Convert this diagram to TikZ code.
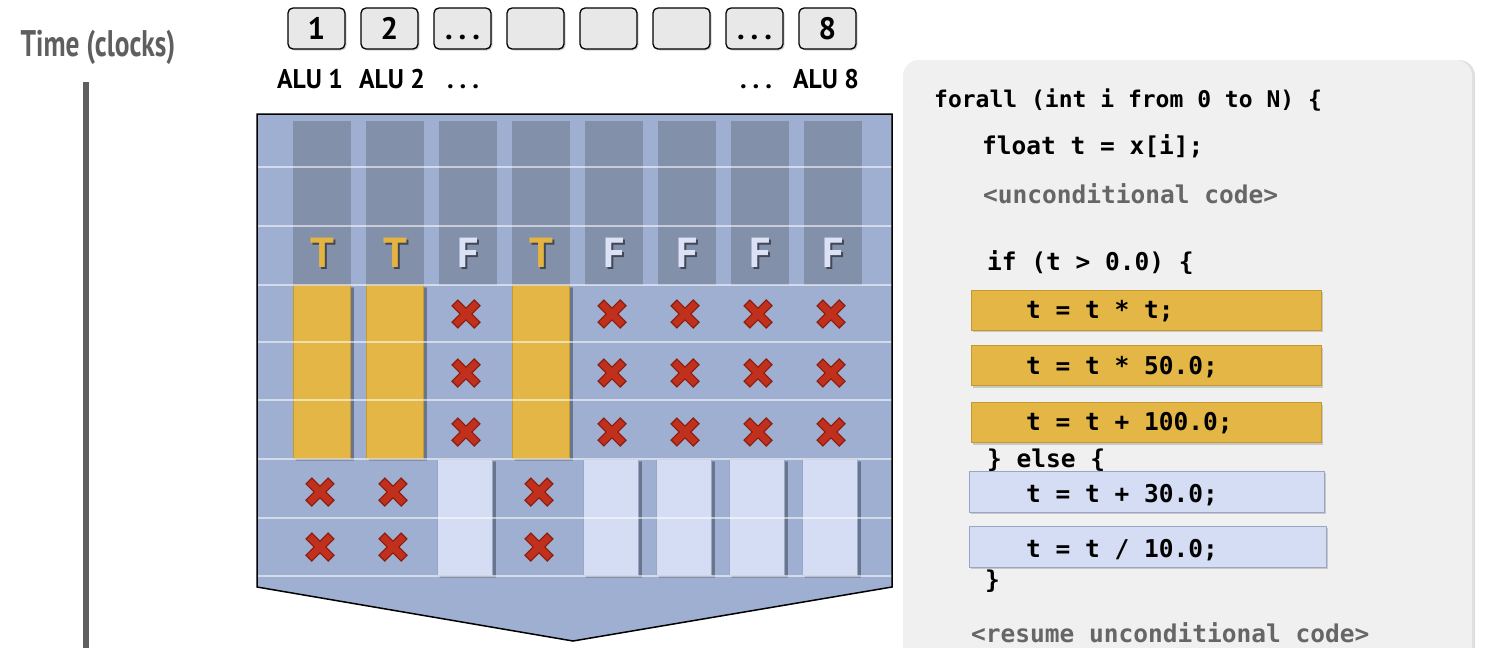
\documentclass[tikz,border=0pt]{standalone}
\usepackage{fontspec}
\setmainfont{PT Sans}
\newfontfamily\codefont{DejaVu Sans Mono}
\usetikzlibrary{shadows}
\definecolor{panelblue}{HTML}{9EAFD1}
\definecolor{colgray}{HTML}{8390A9}
\definecolor{goldc}{HTML}{E3B646}
\definecolor{goldline}{HTML}{C49A30}
\definecolor{lightc}{HTML}{D5DDF4}
\definecolor{lightline}{HTML}{9AA6C6}
\definecolor{xred}{HTML}{C0301C}
\definecolor{xdark}{HTML}{8A1E0E}
\definecolor{fcol}{HTML}{DCE2F6}
\definecolor{tcol}{HTML}{E5B440}
\definecolor{codebg}{HTML}{F0F0F0}
\definecolor{timegray}{HTML}{5F5F5F}
\definecolor{boxgray}{HTML}{E8E8E8}
\definecolor{codegray}{HTML}{666666}
\begin{document}
\begin{tikzpicture}[x=1pt,y=-1pt,
  timelbl/.style={font=\bfseries\fontsize{37}{42}\selectfont, text=timegray, inner sep=0pt},
  timebar/.style={draw=timegray, line width=6pt},
  alubox/.style={draw=black, line width=1.3pt, fill=boxgray, rounded corners=5pt,
    minimum width=57pt, minimum height=41pt, inner sep=0pt,
    font=\bfseries\fontsize{31}{34}\selectfont,
    drop shadow={shadow xshift=1.5pt, shadow yshift=-1.5pt, opacity=0.35}},
  alulbl/.style={font=\bfseries\fontsize{27}{30}\selectfont, inner sep=0pt, anchor=base},
  tf/.style={font=\bfseries\fontsize{42}{46}\selectfont, inner sep=0pt},
  tfshadow/.style={tf, text=black, opacity=0.5},
  shad/.style={fill=black, opacity=0.18},
  goldbar/.style={fill=goldc, draw=goldline, line width=0.6pt},
  lightbar/.style={fill=lightc, draw=lightline, line width=0.4pt},
  rowline/.style={draw=white, opacity=0.55, line width=2.5pt},
  code/.style={font=\codefont\bfseries\fontsize{24.5}{28}\selectfont, inner sep=0pt, anchor=base west},
  goldbox/.style={fill=goldc, draw=goldline, line width=0.8pt, inner sep=0pt,
    drop shadow={shadow xshift=2pt, shadow yshift=-2pt, opacity=0.35}},
  lightbox/.style={fill=lightc, draw=lightline, line width=0.8pt, inner sep=0pt,
    drop shadow={shadow xshift=2pt, shadow yshift=-2pt, opacity=0.35}},
  xmk/.pic={
    \draw[xdark, line width=9.5pt] (-11.5,-11.5) -- (11.5,11.5) (-11.5,11.5) -- (11.5,-11.5);
    \draw[xred, line width=7pt] (-10.5,-10.5) -- (10.5,10.5) (-10.5,10.5) -- (10.5,-10.5);
  }
]
\useasboundingbox (0,0) rectangle (1500,648);
\clip (0,0) rectangle (1500,648);

% time axis
\node[timelbl] (time) at (98,47) {\scalebox{0.74}[1]{Time (clocks)}};
\coordinate (tb1) at (86,82);
\coordinate (tb2) at (86,650);
\draw[timebar] (tb1) -- (tb2);

% ALU boxes
\foreach \i/\t in {1/1,2/2,3/{.\hspace{6pt}.\hspace{6pt}.},4/{},5/{},6/{},7/{.\hspace{6pt}.\hspace{6pt}.},8/8}{
  \node[alubox] (alu\i) at ({316.5+73*(\i-1)},28.5) {\vphantom{8}\t};
}
\node[alulbl] (l1) at (310,88) {\scalebox{0.95}[1]{ALU 1}};
\node[alulbl] (l2) at (392,88) {\scalebox{0.95}[1]{ALU 2}};
\node[alulbl] (l3) at (463,88) {.\hspace{6pt}.\hspace{6pt}.};
\node[alulbl] (l7) at (756,88) {.\hspace{6pt}.\hspace{6pt}.};
\node[alulbl] (l8) at (826,88) {\scalebox{0.95}[1]{ALU 8}};

% panel
\fill[panelblue] (257,114) -- (892,114) -- (892,587) -- (573,641) -- (257,587) -- cycle;

% gray columns
\foreach \k in {1,...,8}{
  \fill[colgray] ({293+73*(\k-1)},121) rectangle +(58,164);
}
% gold bars
\foreach \k in {1,2,4}{
  \fill[shad] ({293+73*(\k-1)+1.5},287) rectangle +(59,173);
  \fill[shad] ({293+73*(\k-1)+3},288) rectangle +(58,173);
  \path[goldbar] ({293+73*(\k-1)},285) rectangle +(57,173);
}
% light bars
\foreach \k in {3,5,6,7,8}{
  \fill[shad] ({437+73*(\k-3)+1.5},461) rectangle +(57,116);
  \fill[shad] ({437+73*(\k-3)+3},462) rectangle +(56,116);
  \path[lightbar] ({437+73*(\k-3)},459) rectangle +(55,116);
}
% row lines
\foreach \yy in {167,226,285,342,400,459,518,576}{
  \draw[rowline] (257,\yy) -- (892,\yy);
}
% T/F
\foreach \k/\c in {1/T,2/T,3/F,4/T,5/F,6/F,7/F,8/F}{
  \node[tfshadow] (tfs\k) at ({324+73*(\k-1)},255) {\c};
}
\foreach \k/\c/\col in {1/T/tcol,2/T/tcol,3/F/fcol,4/T/tcol,5/F/fcol,6/F/fcol,7/F/fcol,8/F/fcol}{
  \node[tf, text=\col] (tf\k) at ({322+73*(\k-1)},253) {\c};
}
% X marks (if rows)
\foreach \k in {3,5,6,7,8}{
  \foreach \yy in {314,373,432}{
    \pic at ({320+73*(\k-1)},\yy) {xmk};
  }
}
% X marks (else rows)
\foreach \k in {1,2,4}{
  \foreach \yy in {492,547}{
    \pic at ({320+73*(\k-1)},\yy) {xmk};
  }
}
% panel outline
\draw[black, line width=1.5pt, line join=miter] (257,114) -- (892,114) -- (892,587) -- (573,641) -- (257,587) -- cycle;

% code panel
\path[fill=codebg, rounded corners=16pt,
  drop shadow={shadow xshift=3pt, shadow yshift=0pt, opacity=0.25}] (903,60) rectangle (1472,720);

\node[code, font=\codefont\bfseries\fontsize{23}{26}\selectfont] (c1) at (934,107) {forall (int i from 0 to N) \{};
\node[code] (c2) at (982,154) {float t = x[i];};
\node[code, text=codegray] (c3) at (983,203) {<unconditional code>};
\node[code] (c4) at (987,270) {if (t > 0.0) \{};

\node[goldbox, minimum width=350pt, minimum height=40pt] (g1) at (1146,310) {};
\node[goldbox, minimum width=350pt, minimum height=40pt] (g2) at (1146,365.5) {};
\node[goldbox, minimum width=350pt, minimum height=40pt] (g3) at (1146,422.5) {};
\node[code] (c5) at (1026,318) {t = t * t;};
\node[code] (c6) at (1026,374) {t = t * 50.0;};
\node[code] (c7) at (1026,430) {t = t + 100.0;};

\node[code] (c8) at (987,467) {\} else \{};

\node[lightbox, minimum width=355pt, minimum height=41pt] (b1) at (1146.5,491.5) {};
\node[lightbox, minimum width=357pt, minimum height=41pt] (b2) at (1147.5,546.5) {};
\node[code] (c9) at (1026,502) {t = t + 30.0;};
\node[code] (c10) at (1026,557) {t = t / 10.0;};

\node[code] (c11) at (985,588) {\}};
\node[code, text=codegray] (c12) at (971,642) {<resume unconditional code>};
\end{tikzpicture}
\end{document}
